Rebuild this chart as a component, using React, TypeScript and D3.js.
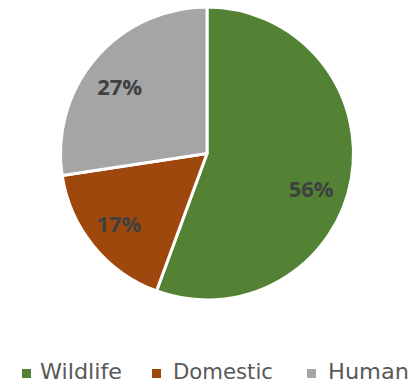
import React from "react";
import * as d3 from "d3";

const categories = ["Wildlife", "Domestic", "Human"];
const values = [55.6, 17.0, 27.4];
const colors = ["#548235", "#9E480E", "#A5A5A5"];

const W = 413, H = 386;
const cx = 207, cy = 153.5, R = 146.5;
// layout tweaks for label placement (px)
const labelShift = [[-4, 15], [-3, 0], [-4, 4]];
const legendX = [22, 152, 307];
const legendTextLen = [82, 100, 81];

export default function App() {
  const pie = d3.pie<number>().sort(null).value((d) => d)(values);
  const arc = d3.arc<d3.PieArcDatum<number>>().innerRadius(0).outerRadius(R);
  const labelArc = d3.arc<d3.PieArcDatum<number>>().innerRadius(R * 0.75).outerRadius(R * 0.75);
  const total = d3.sum(values);
  return (
    <svg width={W} height={H} style={{ position: "absolute", left: 0, top: 0 }}>
      <rect width={W} height={H} fill="#fff" />
      <g transform={`translate(${cx},${cy})`}>
        {pie.map((p, i) => (
          <path key={i} d={arc(p) || ""} fill={colors[i]} stroke="#fff" strokeWidth={3} strokeLinejoin="round" />
        ))}
        {pie.map((p, i) => {
          const [x, y] = labelArc.centroid(p);
          return (
            <text key={i} x={x + labelShift[i][0]} y={y + labelShift[i][1]} textAnchor="middle" dominantBaseline="central"
              fontFamily="'Open Sans', 'DejaVu Sans', sans-serif" fontWeight="bold" fontSize={22} fill="#404040">
              {`${Math.round((values[i] / total) * 100)}%`}
            </text>
          );
        })}
      </g>
      {categories.map((c, i) => (
        <g key={c} transform={`translate(${legendX[i]},369)`}>
          <rect width={9} height={9} fill={colors[i]} />
          <text x={i === 0 ? 18 : 21} y={10} fontFamily="'DejaVu Sans', sans-serif" fontSize={20.5} fill="#595959"
            textLength={legendTextLen[i]} lengthAdjust="spacingAndGlyphs">{c}</text>
        </g>
      ))}
    </svg>
  );
}
